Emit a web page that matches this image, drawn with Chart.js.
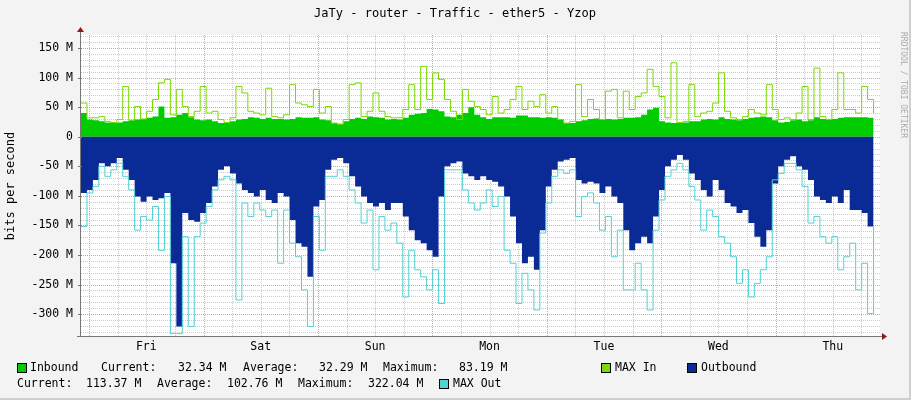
<!DOCTYPE html>
<html><head><meta charset="utf-8">
<script src="https://cdn.jsdelivr.net/npm/chart.js@4"></script>
<style>html,body{margin:0;padding:0;background:#f3f3f3}#w{width:911px;height:400px}</style>
</head><body><div id="w"><canvas id="c" width="911" height="400"></canvas></div>
<script>
const STEP_HOURS = 1.25;
const inbound = [40,29,28,26,24,23,24,26,28,29,30,32,34,51,32,33,37,40,33,29,28,29,26,23,24,26,29,30,33,32,30,32,30,30,29,30,33,32,32,33,29,28,23,22,26,30,32,30,34,33,32,29,30,29,32,37,39,40,47,46,43,34,33,37,40,50,37,
33,30,33,33,33,32,36,36,33,33,32,33,32,29,23,23,26,28,30,31,29,30,29,30,32,32,33,37,46,49,26,24,23,23,24,26,26,29,30,29,33,30,29,28,30,32,33,34,33,28,24,25,28,29,26,28,33,30,29,30,32,33,33,33,33,32,30];
const maxIn = [57,32,32,34,26,24,29,85,28,51,30,43,63,91,97,37,80,51,34,43,85,40,43,29,24,32,85,74,43,40,37,82,34,32,37,88,57,54,51,80,40,51,23,21,29,88,91,34,43,74,43,34,32,32,46,88,46,119,63,108,97,63,43,29,80,60,51,
46,37,68,40,46,63,85,46,60,51,71,40,51,29,23,26,88,34,63,46,29,77,80,32,77,46,68,74,114,85,68,32,125,24,26,88,34,40,43,57,108,43,32,29,34,46,40,37,88,46,29,32,29,40,85,29,116,34,29,46,108,46,46,40,85,63,40];
const outbound = [-95,-90,-73,-45,-50,-45,-36,-56,-73,-101,-110,-101,-107,-104,-95,-214,-321,-129,-141,-144,-129,-112,-84,-56,-50,-62,-79,-90,-95,-101,-90,-107,-112,-95,-101,-141,-180,-186,-237,-118,-107,-56,-39,-36,-45,-67,-84,-101,-112,-118,-112,-124,-112,-112,-135,-158,-175,-180,-192,-203,-101,-50,-45,-42,-62,-67,-73,
-67,-73,-76,-84,-101,-135,-180,-214,-203,-225,-158,-84,-56,-42,-39,-36,-73,-79,-76,-79,-95,-84,-101,-112,-158,-192,-180,-169,-180,-135,-90,-50,-39,-31,-39,-62,-73,-90,-101,-73,-90,-112,-118,-129,-124,-146,-169,-186,-158,-79,-50,-39,-33,-50,-56,-73,-101,-107,-112,-101,-112,-90,-124,-124,-129,-152,-135];
const maxOut = [-152,-95,-84,-50,-67,-56,-45,-67,-90,-158,-135,-141,-118,-192,-101,-333,-333,-169,-321,-169,-146,-118,-90,-73,-67,-73,-276,-112,-135,-112,-124,-135,-124,-214,-124,-180,-203,-259,-321,-135,-192,-67,-67,-56,-67,-90,-112,-146,-124,-225,-135,-158,-146,-180,-271,-192,-225,-237,-259,-225,-282,-56,-56,-56,-90,-112,-124,
-112,-90,-118,-101,-192,-214,-282,-231,-259,-293,-163,-112,-67,-56,-62,-56,-135,-101,-95,-112,-158,-135,-203,-158,-259,-259,-214,-259,-293,-158,-107,-67,-56,-45,-56,-84,-107,-158,-124,-135,-169,-180,-203,-248,-225,-271,-248,-225,-203,-73,-62,-45,-45,-56,-84,-146,-135,-169,-180,-169,-225,-203,-180,-259,-214,-299,-152];
const dayLabels = ['Fri','Sat','Sun','Mon','Tue','Wed','Thu'];
const firstMidnight = 1.7;
const yTicks = [150,100,50,0,-50,-100,-150,-200,-250,-300];
const legendRow1 = [['Inbound',30],['Current:',101],['32.34 M',178],['Average:',243],['32.29 M',319],['Maximum:',383],['83.19 M',459],['MAX In',615],['Outbound',701]];
const legendRow2 = [['Current:',17],['113.37 M',86],['Average:',157],['102.76 M',227],['Maximum:',298],['322.04 M',368],['MAX Out',453]];

const pts = a => a.map((v,i)=>({x:i*STEP_HOURS,y:v}));
const MONO = '"DejaVu Sans Mono", monospace';

const deco = {
  id:'deco',
  beforeDraw(ch){
    const c=ch.ctx, a=ch.chartArea, x=ch.scales.x, y=ch.scales.y;
    c.save();
    c.fillStyle='#f3f3f3'; c.fillRect(0,0,911,400);
    c.strokeStyle='#cfcfcf'; c.lineWidth=2; c.beginPath(); c.moveTo(0,399); c.lineTo(910,399); c.lineTo(910,0); c.stroke();
    c.fillStyle='#ffffff'; c.fillRect(a.left,a.top,a.right-a.left,a.bottom-a.top);
    c.lineWidth=1;
    // horizontal grid
    for(let v=-330; v<=170; v+=10){
      const py=Math.round(y.getPixelForValue(v))+0.5;
      if(py<a.top||py>a.bottom) continue;
      c.setLineDash([1,1]);
      c.strokeStyle = (v%50===0)?'rgba(230,130,130,0.8)':'rgba(190,190,190,0.8)';
      c.beginPath(); c.moveTo(a.left,py); c.lineTo(a.right,py); c.stroke();
    }
    // vertical grid
    for(let h=firstMidnight-18; h<=170; h+=6){
      const px=Math.round(x.getPixelForValue(h))+0.5;
      if(px<a.left||px>a.right) continue;
      const mid=Math.abs(((h-firstMidnight)%24+24)%24)<0.01;
      c.setLineDash([1,1]);
      c.strokeStyle= mid?'rgba(230,130,130,0.8)':'rgba(190,190,190,0.8)';
      c.beginPath(); c.moveTo(px,a.top); c.lineTo(px,a.bottom); c.stroke();
    }
    c.restore();
  },
  afterDraw(ch){
    const c=ch.ctx, a=ch.chartArea, x=ch.scales.x, y=ch.scales.y;
    c.save();
    c.strokeStyle='#777'; c.lineWidth=1; c.setLineDash([]);
    c.beginPath(); c.moveTo(a.left-0.5,a.bottom); c.lineTo(a.left-0.5,a.top-4); c.stroke();
    c.beginPath(); c.moveTo(a.left-4,a.bottom+0.5); c.lineTo(a.right+3,a.bottom+0.5); c.stroke();
    c.fillStyle='#8b1a1a';
    c.beginPath(); c.moveTo(a.right+7,a.bottom+0.5); c.lineTo(a.right+2,a.bottom-3); c.lineTo(a.right+2,a.bottom+4); c.fill();
    c.beginPath(); c.moveTo(a.left-0.5,a.top-8); c.lineTo(a.left-4,a.top-3); c.lineTo(a.left+3,a.top-3); c.fill();
    // y ticks
    c.fillStyle='#000'; c.font='11.5px '+MONO; c.textAlign='right'; c.textBaseline='middle';
    yTicks.forEach(v=>{const py=y.getPixelForValue(v); c.fillText(v===0?'0':v+' M',73,py);
      c.strokeStyle='#777'; c.beginPath(); c.moveTo(a.left-3,Math.round(py)+0.5); c.lineTo(a.left+1,Math.round(py)+0.5); c.stroke();});
    // x labels
    c.textAlign='center';
    dayLabels.forEach((d,i)=>c.fillText(d,x.getPixelForValue(firstMidnight+12+24*i),347));
    // title
    c.font='12px '+MONO; c.fillText('JaTy - router - Traffic - ether5 - Yzop',455,14);
    // axis title
    c.save(); c.translate(11,186); c.rotate(-Math.PI/2); c.font='12px '+MONO; c.fillText('bits per second',0,0); c.restore();
    c.save(); c.translate(903,85); c.rotate(Math.PI/2); c.font='8px '+MONO; c.fillStyle='#aaa'; c.fillText('RRDTOOL / TOBI OETIKER',0,0); c.restore();
    // legend
    c.font='11.5px '+MONO; c.textAlign='left'; c.fillStyle='#000';
    legendRow1.forEach(([t,px])=>c.fillText(t,px,368));
    legendRow2.forEach(([t,px])=>c.fillText(t,px,384));
    const sq=(px,py,col)=>{c.fillStyle=col;c.fillRect(px,py,10,10);c.strokeStyle='#000';c.strokeRect(px+0.5,py+0.5,9,9);};
    sq(17,363,'#00cc00'); sq(601,363,'#7ad900'); sq(687,363,'#0a2b96'); sq(439,379,'#52d2d2');
    c.restore();
  }
};

new Chart(document.getElementById('c'),{
  type:'line',
  data:{datasets:[
    {label:'Inbound',data:pts(inbound),fill:'origin',backgroundColor:'#00cc00',borderWidth:0,pointRadius:0,stepped:true,order:4},
    {label:'MAX In',data:pts(maxIn),fill:false,borderColor:'#7ad900',borderWidth:1,pointRadius:0,stepped:true,order:3},
    {label:'Outbound',data:pts(outbound),fill:'origin',backgroundColor:'#0a2b96',borderWidth:0,pointRadius:0,stepped:true,order:2},
    {label:'MAX Out',data:pts(maxOut),fill:false,borderColor:'#52d2d2',borderWidth:1,pointRadius:0,stepped:true,order:1}
  ]},
  options:{responsive:false,animation:false,devicePixelRatio:1,
    layout:{padding:{top:35,right:31,left:0,bottom:0}},
    plugins:{legend:{display:false},tooltip:{enabled:false}},
    scales:{
      x:{type:'linear',min:0,max:167.6,grid:{display:false},border:{display:false},ticks:{display:false},afterFit:s=>{s.height=64;}},
      y:{min:-337,max:172,grid:{display:false},border:{display:false},ticks:{display:false},afterFit:s=>{s.width=81;}}
    }
  },
  plugins:[deco]
});
</script></body></html>
